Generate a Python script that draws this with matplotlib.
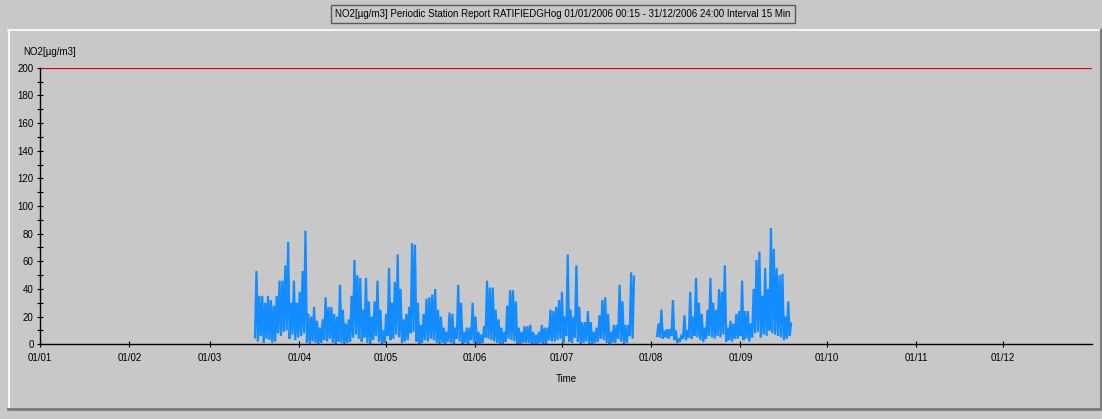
"""NO2 periodic station report for 2006, 15 minute interval, drawn with pyplot"""
import matplotlib
matplotlib.use("Agg")
import matplotlib.pyplot as plt
from matplotlib.lines import Line2D
from matplotlib.ticker import MultipleLocator

# month starts as day-of-year offsets (2006, not a leap year)
month_starts = [0, 31, 59, 90, 120, 151, 181, 212, 243, 273, 304, 334]
month_labels = ["01/01", "01/02", "01/03", "01/04", "01/05", "01/06",
                "01/07", "01/08", "01/09", "01/10", "01/11", "01/12"]

limit_value = 200

# first measuring period: 16 March .. 26 July, daily peak / trough in ug/m3
period1_start = 74.6
period1_high = [
    53, 35, 35, 30, 35, 32, 28, 35, 46, 46, 57, 74, 30, 46, 30, 38, 53, 82,
    22, 20, 27, 17, 12, 18, 34, 27, 27, 22, 20, 43, 25, 15, 18,
    35, 61, 50, 48, 25, 48, 31, 20, 31, 46, 25, 10, 22, 55, 30, 45, 65, 40,
    18, 22, 27, 73, 72, 30, 14, 22, 33, 34, 36, 40, 25, 20, 12,
    9, 23, 22, 12, 43, 30, 9, 12, 12, 30, 20, 9, 7, 13, 46, 41, 41, 25, 18,
    12, 9, 28, 39, 39, 31, 12, 9, 13, 13, 14, 9, 7, 9,
    14, 12, 12, 25, 24, 27, 32, 38, 20, 65, 25, 20, 57, 27, 16, 16, 24, 16,
    9, 12, 21, 32, 34, 22, 9, 14, 14, 43, 31, 14, 14, 52, 49,
]
period1_low = [
    5, 2, 6, 1, 4, 3, 1, 2, 8, 6, 9, 10, 4, 7, 3, 5, 6, 8, 1, 0, 2, 1, 0, 1,
    3, 2, 4, 1, 0, 2, 1, 0, 1,
    2, 5, 7, 4, 2, 5, 1, 0, 3, 6, 2, 0, 1, 6, 3, 4, 7, 5, 1, 2, 3, 8, 9, 2,
    0, 1, 3, 2, 4, 3, 1, 0, 1,
    0, 2, 1, 0, 4, 2, 0, 1, 0, 3, 1, 0, 0, 1, 5, 4, 3, 2, 1, 0, 0, 2, 4, 3,
    2, 0, 0, 1, 1, 1, 0, 0, 0,
    1, 0, 0, 3, 2, 2, 3, 4, 1, 6, 2, 1, 5, 2, 0, 1, 2, 0, 0, 1, 2, 4, 3, 1,
    0, 1, 1, 4, 2, 0, 1, 6, 4,
]

# second measuring period: 2 August .. 17 September
period2_start = 214.1
period2_high = [
    15, 25, 10, 11, 11, 32, 10, 4, 7, 21, 10, 38, 20, 48, 30, 22, 12, 25,
    48, 30, 25, 40, 38, 57, 12, 17, 15, 22, 24, 46, 24, 24, 15, 40, 61, 67,
    35, 55, 40, 84, 69, 55, 50, 51, 20, 31, 15,
]
period2_low = [
    6, 5, 4, 5, 4, 6, 3, 1, 2, 4, 3, 5, 4, 6, 5, 3, 2, 4, 6, 5, 4, 6, 5, 7,
    2, 3, 2, 4, 4, 6, 3, 4, 2, 5, 8, 9, 5, 7, 6, 10, 8, 7, 6, 5, 3, 4, 6,
]

TITLE = ("NO2[\u00b5g/m3] Periodic Station Report RATIFIEDGHog "
         "01/01/2006 00:15 - 31/12/2006 24:00 Interval 15 Min")

BG = "#c8c8c8"
LINE_BLUE = "#128cff"


def day_trace(start, highs, lows):
    """Turn daily peak/trough lists into a zig-zag time series"""
    times, values = [], []
    for k, (hi, lo) in enumerate(zip(highs, lows)):
        times += [start + k, start + k + 0.5]
        values += [lo, hi]
    return times, values


def px_line(fig, x0, y0, x1, y1, color, lw):
    """Draw a straight line in figure pixel coordinates (origin top left)"""
    w, h = fig.get_size_inches() * fig.dpi
    fig.add_artist(Line2D([x0 / w, x1 / w], [1 - y0 / h, 1 - y1 / h],
                          color=color, lw=lw, transform=fig.transFigure))


def main():
    """Build the report chart and save it"""
    plt.rcParams["font.family"] = ["Liberation Sans", "DejaVu Sans"]
    plt.rcParams["font.size"] = 7

    fig = plt.figure(figsize=(11.02, 4.19), dpi=100, facecolor=BG)
    ax = fig.add_axes([40 / 1102, 1 - 344.3 / 419,
                       1052 / 1102, 276.6 / 419])
    ax.set_facecolor(BG)

    # panel frame around the plot area
    px_line(fig, 8, 30.5, 1100, 30.5, "white", 1.2)
    px_line(fig, 8.5, 30, 8.5, 409, "white", 1.2)
    px_line(fig, 8, 409, 1101, 409, "#7a7a7a", 2.0)
    px_line(fig, 1100.5, 30, 1100.5, 409, "#7a7a7a", 1.5)

    for start, highs, lows in ((period1_start, period1_high, period1_low),
                               (period2_start, period2_high, period2_low)):
        t, v = day_trace(start, highs, lows)
        ax.plot(t, v, color=LINE_BLUE, lw=1.6, solid_joinstyle="miter")

    ax.axhline(limit_value, color="#e00000", lw=1.6)

    ax.set_xlim(0, 365)
    ax.set_ylim(0, 200)
    ax.set_xticks(month_starts)
    ax.set_xticklabels(month_labels)
    ax.yaxis.set_major_locator(MultipleLocator(20))
    ax.yaxis.set_minor_locator(MultipleLocator(10))
    ax.tick_params(axis="both", which="major", direction="inout",
                   length=5, width=0.8, colors="black", pad=2,
                   labelsize=7)
    ax.tick_params(axis="y", which="minor", direction="inout",
                   length=4, width=0.8, colors="black")
    ax.tick_params(axis="x", pad=4)

    for side in ("top", "right"):
        ax.spines[side].set_visible(False)
    for side in ("left", "bottom"):
        ax.spines[side].set_linewidth(1.0)

    ax.set_xlabel("Time", fontsize=7, labelpad=8)
    fig.text(23 / 1102, 1 - 52 / 419, "NO2[\u00b5g/m3]", fontsize=7,
             va="center", ha="left")

    fig.text(563 / 1102, 1 - 14 / 419, TITLE, fontsize=7, ha="center",
             va="center",
             bbox=dict(boxstyle="square,pad=0.45", facecolor=BG,
                       edgecolor="#5a5a5a", linewidth=1.0))

    fig.savefig("out.png", dpi=100, facecolor=BG)


if __name__ == "__main__":
    main()
